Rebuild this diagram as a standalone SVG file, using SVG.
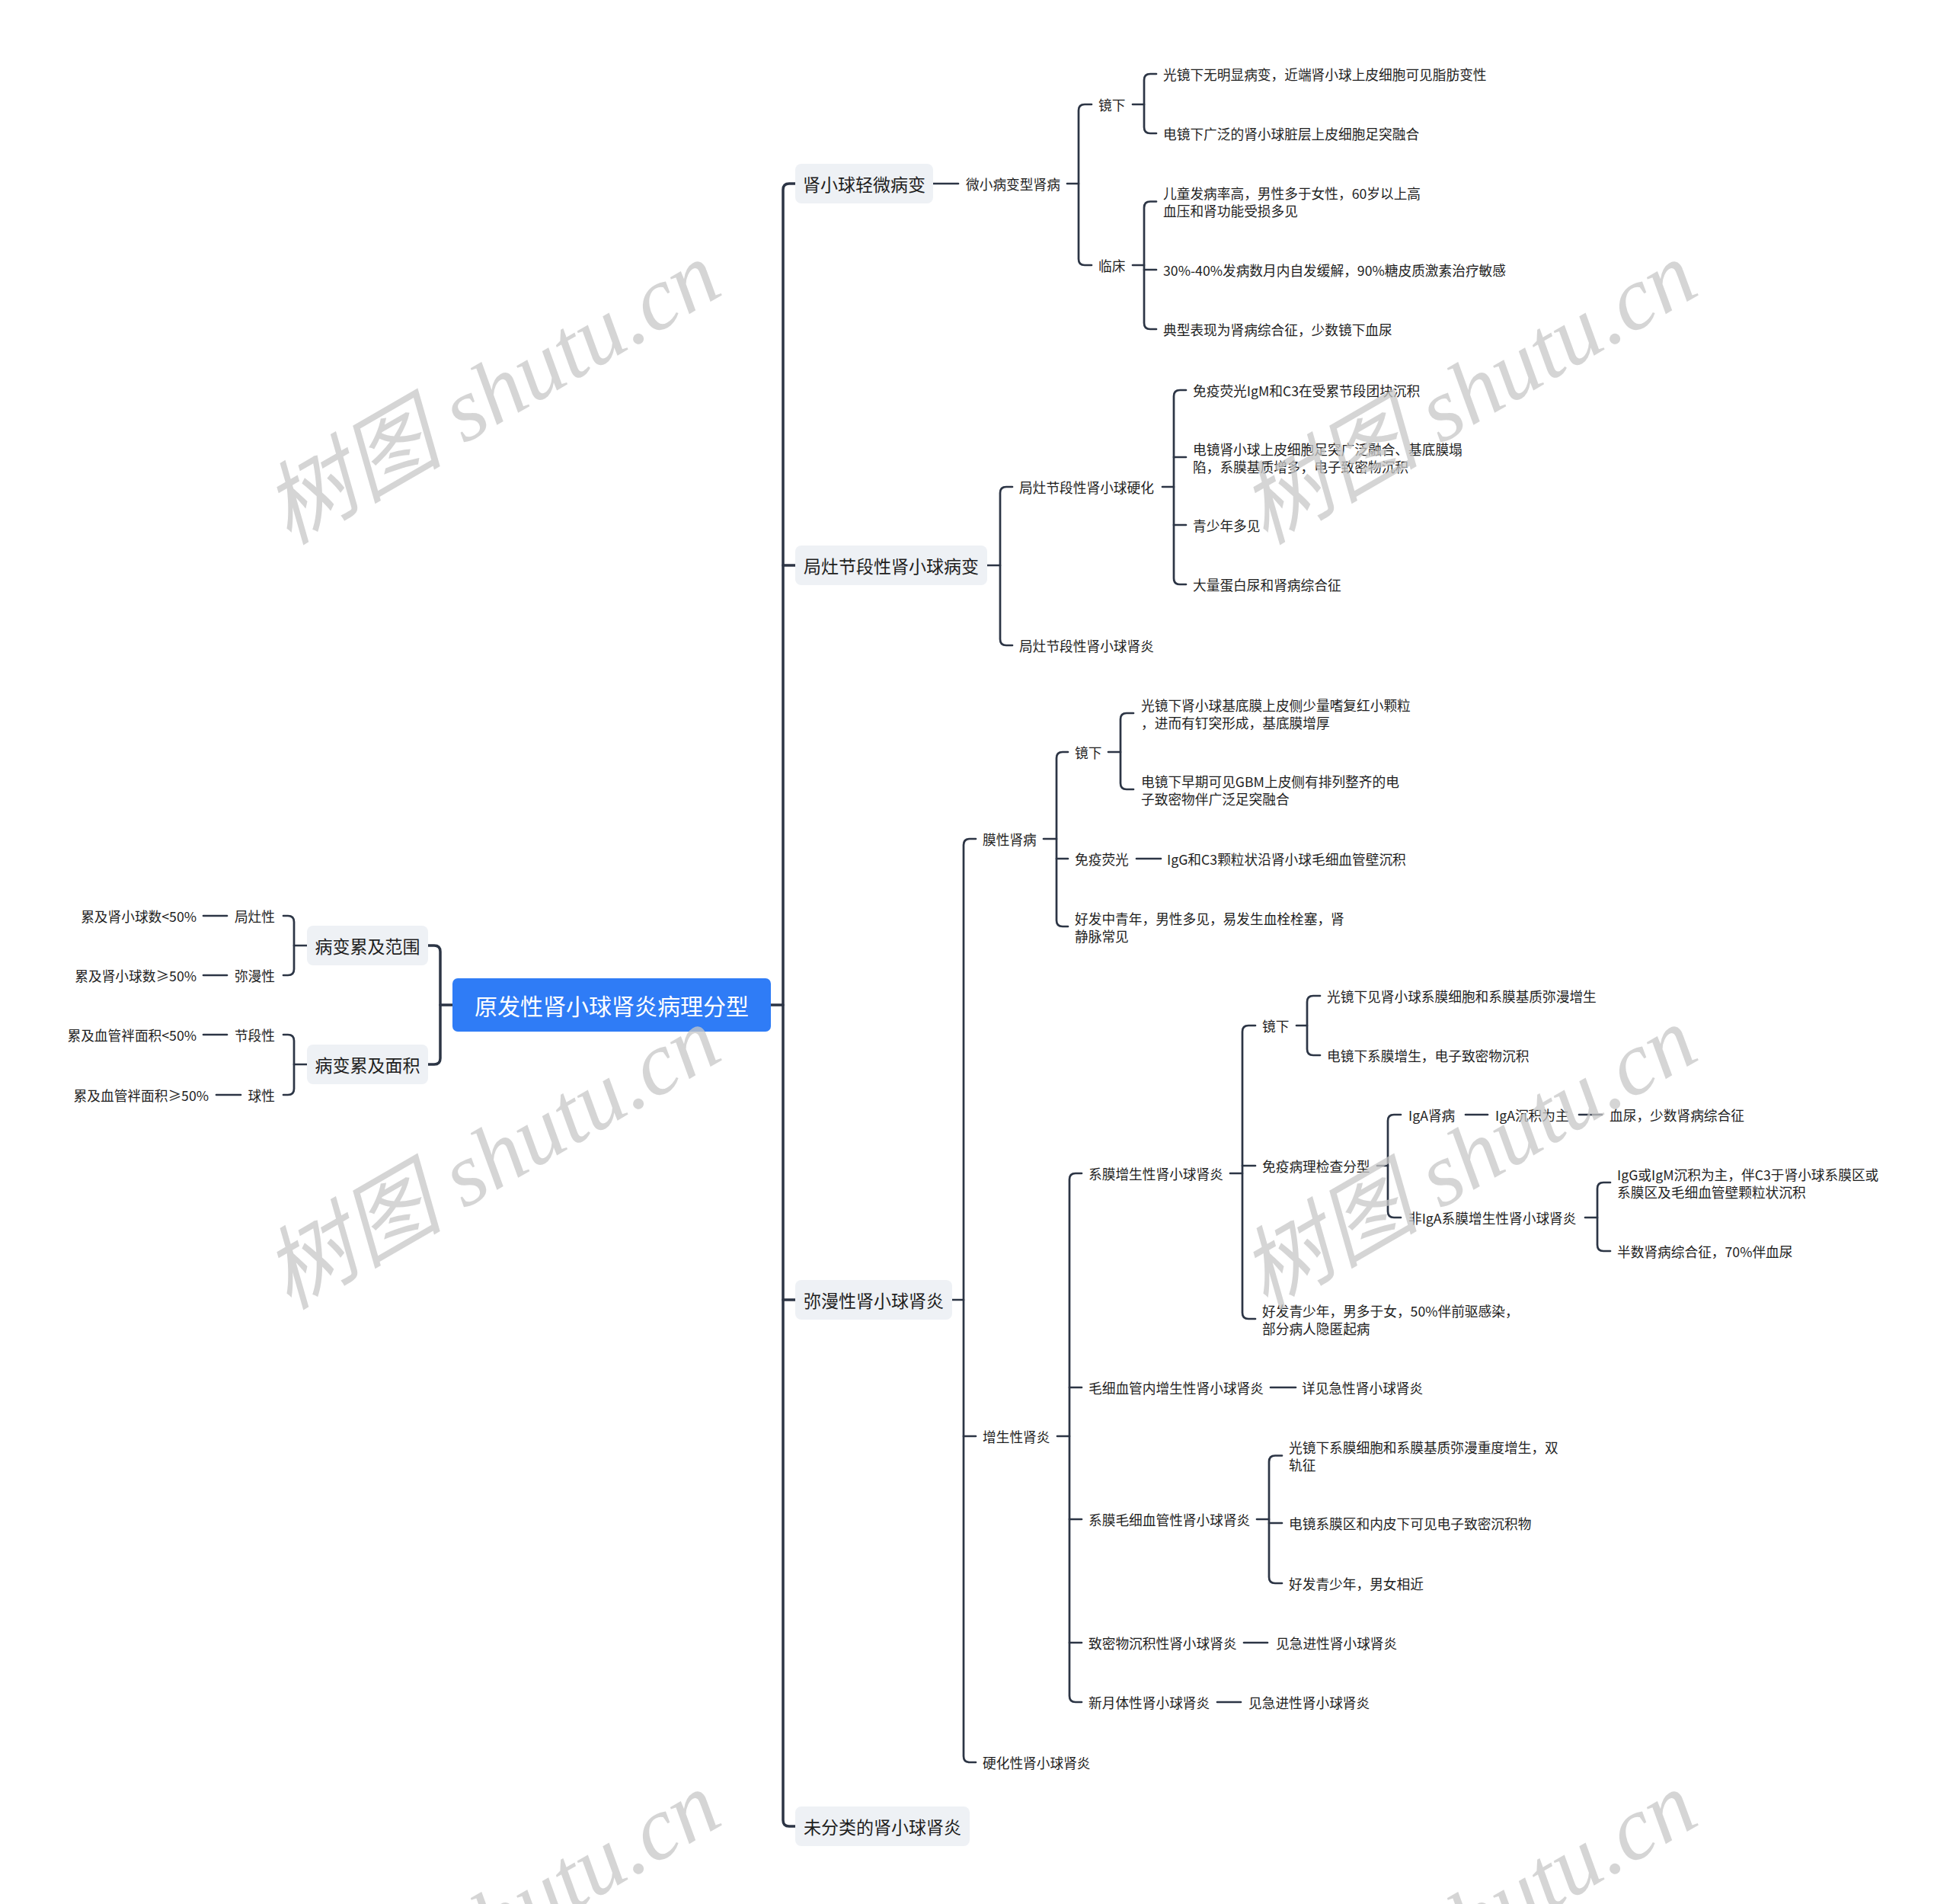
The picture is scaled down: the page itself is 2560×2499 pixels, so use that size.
<svg xmlns="http://www.w3.org/2000/svg" width="2560" height="2499" viewBox="0 0 2560 2499">
<style>
text{font-family:"Noto Sans CJK SC","Noto Sans",sans-serif;fill:#1e1e1e;dominant-baseline:central}
.s{font-size:17.7px}
.l1{font-size:23px;text-anchor:middle}
.root{font-size:30px;fill:#ffffff;text-anchor:middle}
.e{text-anchor:end}
.box{fill:#eef1f5}
.rootbox{fill:#2f7cf6}
#connectors path{fill:none;stroke:#2c3545;stroke-width:2.7;stroke-linecap:round;stroke-linejoin:round}
#connectors path.c0{stroke-width:3.5}
.wm{font-family:"Liberation Serif","Noto Sans CJK SC",serif;font-style:italic;font-size:118px;fill:#c8c8c8;opacity:0.75;text-anchor:middle}
</style>
<rect width="2560" height="2499" fill="#ffffff"/>
<g id="connectors">
<path class="c0" d="M1012,1319 H1028"/>
<path class="c0" d="M1044,241 H1036 Q1028,241 1028,249 V2389 Q1028,2397 1036,2397 H1044"/>
<path class="c0" d="M1028,742 H1044"/>
<path class="c0" d="M1028,1706 H1044"/>
<path class="c0" d="M594,1319 H578"/>
<path class="c0" d="M562,1241 H570 Q578,1241 578,1249 V1389 Q578,1397 570,1397 H562"/>
<path d="M403,1241 H386"/>
<path d="M372,1202 H378 Q386,1202 386,1210 V1272 Q386,1280 378,1280 H372"/>
<path d="M403,1397 H386"/>
<path d="M372,1358 H378 Q386,1358 386,1366 V1429 Q386,1437 378,1437 H372"/>
<path d="M298,1202 H267"/>
<path d="M298,1280 H267"/>
<path d="M298,1358 H267"/>
<path d="M316,1437 H284"/>
<path d="M1225,241 H1258"/>
<path d="M1401,241 H1416"/>
<path d="M1433,137 H1424 Q1416,137 1416,145 V340 Q1416,348 1424,348 H1433"/>
<path d="M1487,137 H1502"/>
<path d="M1518,97 H1510 Q1502,97 1502,105 V167 Q1502,175 1510,175 H1518"/>
<path d="M1487,348 H1502"/>
<path d="M1518,264.5 H1510 Q1502,264.5 1502,272.5 V424 Q1502,432 1510,432 H1518"/>
<path d="M1502,354 H1518"/>
<path d="M1296,742 H1313"/>
<path d="M1329,639 H1321 Q1313,639 1313,647 V839 Q1313,847 1321,847 H1329"/>
<path d="M1526,639 H1541"/>
<path d="M1557,512 H1549 Q1541,512 1541,520 V759 Q1541,767 1549,767 H1557"/>
<path d="M1541,600 H1557"/>
<path d="M1541,689 H1557"/>
<path d="M1250,1706 H1265"/>
<path d="M1281,1101 H1273 Q1265,1101 1265,1109 V2305 Q1265,2313 1273,2313 H1281"/>
<path d="M1265,1885 H1281"/>
<path d="M1370,1101 H1387"/>
<path d="M1402,987 H1395 Q1387,987 1387,995 V1208 Q1387,1216 1395,1216 H1402"/>
<path d="M1387,1127 H1402"/>
<path d="M1455,987 H1471"/>
<path d="M1488,936 H1479 Q1471,936 1471,944 V1028 Q1471,1036 1479,1036 H1488"/>
<path d="M1492,1127 H1524"/>
<path d="M1388,1885 H1404"/>
<path d="M1420,1540 H1412 Q1404,1540 1404,1548 V2226 Q1404,2234 1412,2234 H1420"/>
<path d="M1404,1821 H1420"/>
<path d="M1404,1994 H1420"/>
<path d="M1404,2156 H1420"/>
<path d="M1615,1540 H1631"/>
<path d="M1648,1346 H1639 Q1631,1346 1631,1354 V1723 Q1631,1731 1639,1731 H1648"/>
<path d="M1631,1530 H1648"/>
<path d="M1702,1346 H1716"/>
<path d="M1733,1307 H1724 Q1716,1307 1716,1315 V1377 Q1716,1385 1724,1385 H1733"/>
<path d="M1808,1530 H1822"/>
<path d="M1839,1463 H1830 Q1822,1463 1822,1471 V1590 Q1822,1598 1830,1598 H1839"/>
<path d="M1924,1463 H1953"/>
<path d="M2073,1463 H2103"/>
<path d="M2081,1598 H2097"/>
<path d="M2114,1552 H2105 Q2097,1552 2097,1560 V1634 Q2097,1642 2105,1642 H2114"/>
<path d="M1668,1821 H1701"/>
<path d="M1650,1994 H1666"/>
<path d="M1683,1910.5 H1674 Q1666,1910.5 1666,1918.5 V2070 Q1666,2078 1674,2078 H1683"/>
<path d="M1666,1999 H1683"/>
<path d="M1633,2156 H1664"/>
<path d="M1598,2234 H1629"/>
</g>
<g id="root"><rect class="rootbox" x="594" y="1284" width="418" height="70" rx="7"/><text class="root" x="803" y="1319">原发性肾小球肾炎病理分型</text></g>
<g id="n-fanwei"><rect class="box" x="403" y="1215" width="159" height="52" rx="8"/><text class="l1" x="482.5" y="1241">病变累及范围</text></g>
<g id="n-mianji"><rect class="box" x="403" y="1371" width="159" height="52" rx="8"/><text class="l1" x="482.5" y="1397">病变累及面积</text></g>
<g id="n-juzao"><text class="s e" x="361" y="1202">局灶性</text></g>
<g id="n-juzao-d"><text class="s e" x="258" y="1202">累及肾小球数&lt;50%</text></g>
<g id="n-miman"><text class="s e" x="361" y="1280">弥漫性</text></g>
<g id="n-miman-d"><text class="s e" x="258" y="1280">累及肾小球数≥50%</text></g>
<g id="n-jieduan"><text class="s e" x="361" y="1358">节段性</text></g>
<g id="n-jieduan-d"><text class="s e" x="258" y="1358">累及血管袢面积&lt;50%</text></g>
<g id="n-qiu"><text class="s e" x="361" y="1437">球性</text></g>
<g id="n-qiu-d"><text class="s e" x="274" y="1437">累及血管袢面积≥50%</text></g>
<g id="b1"><rect class="box" x="1044" y="215" width="181" height="52" rx="8"/><text class="l1" x="1134.5" y="241">肾小球轻微病变</text></g>
<g id="b1-1"><text class="s" x="1268" y="241">微小病变型肾病</text></g>
<g id="b1-1-1"><text class="s" x="1442" y="137">镜下</text></g>
<g id="b1-1-1-1"><text class="s" x="1527" y="97">光镜下无明显病变，近端肾小球上皮细胞可见脂肪变性</text></g>
<g id="b1-1-1-2"><text class="s" x="1527" y="175">电镜下广泛的肾小球脏层上皮细胞足突融合</text></g>
<g id="b1-1-2"><text class="s" x="1442" y="348">临床</text></g>
<g id="b1-1-2-1"><text class="s" x="1527" y="253"><tspan x="1527" y="253">儿童发病率高，男性多于女性，60岁以上高</tspan><tspan x="1527" y="276">血压和肾功能受损多见</tspan></text></g>
<g id="b1-1-2-2"><text class="s" x="1527" y="354">30%-40%发病数月内自发缓解，90%糖皮质激素治疗敏感</text></g>
<g id="b1-1-2-3"><text class="s" x="1527" y="432">典型表现为肾病综合征，少数镜下血尿</text></g>
<g id="b2"><rect class="box" x="1044" y="716" width="252" height="52" rx="8"/><text class="l1" x="1170" y="742">局灶节段性肾小球病变</text></g>
<g id="b2-1"><text class="s" x="1338" y="639">局灶节段性肾小球硬化</text></g>
<g id="b2-1-1"><text class="s" x="1566" y="512">免疫荧光IgM和C3在受累节段团块沉积</text></g>
<g id="b2-1-2"><text class="s"><tspan x="1566" y="588.5">电镜肾小球上皮细胞足突广泛融合、基底膜塌</tspan><tspan x="1566" y="611.5">陷，系膜基质增多，电子致密物沉积</tspan></text></g>
<g id="b2-1-3"><text class="s" x="1566" y="689">青少年多见</text></g>
<g id="b2-1-4"><text class="s" x="1566" y="767">大量蛋白尿和肾病综合征</text></g>
<g id="b2-2"><text class="s" x="1338" y="847">局灶节段性肾小球肾炎</text></g>
<g id="b3"><rect class="box" x="1044" y="1680" width="206" height="52" rx="8"/><text class="l1" x="1147" y="1706">弥漫性肾小球肾炎</text></g>
<g id="b3-1"><text class="s" x="1290" y="1101">膜性肾病</text></g>
<g id="b3-1-1"><text class="s" x="1411" y="987">镜下</text></g>
<g id="b3-1-1-1"><text class="s"><tspan x="1498" y="924.5">光镜下肾小球基底膜上皮侧少量嗜复红小颗粒</tspan><tspan x="1498" y="947.5">，进而有钉突形成，基底膜增厚</tspan></text></g>
<g id="b3-1-1-2"><text class="s"><tspan x="1498" y="1024.5">电镜下早期可见GBM上皮侧有排列整齐的电</tspan><tspan x="1498" y="1047.5">子致密物伴广泛足突融合</tspan></text></g>
<g id="b3-1-2"><text class="s" x="1411" y="1127">免疫荧光</text></g>
<g id="b3-1-2-1"><text class="s" x="1532" y="1127">IgG和C3颗粒状沿肾小球毛细血管壁沉积</text></g>
<g id="b3-1-3"><text class="s"><tspan x="1411" y="1204.5">好发中青年，男性多见，易发生血栓栓塞，肾</tspan><tspan x="1411" y="1227.5">静脉常见</tspan></text></g>
<g id="b3-2"><text class="s" x="1290" y="1885">增生性肾炎</text></g>
<g id="b3-2-1"><text class="s" x="1429" y="1540">系膜增生性肾小球肾炎</text></g>
<g id="b3-2-1-1"><text class="s" x="1657" y="1346">镜下</text></g>
<g id="b3-2-1-1-1"><text class="s" x="1742" y="1307">光镜下见肾小球系膜细胞和系膜基质弥漫增生</text></g>
<g id="b3-2-1-1-2"><text class="s" x="1742" y="1385">电镜下系膜增生，电子致密物沉积</text></g>
<g id="b3-2-1-2"><text class="s" x="1657" y="1530">免疫病理检查分型</text></g>
<g id="b3-2-1-2-1"><text class="s" x="1849" y="1463">IgA肾病</text></g>
<g id="b3-2-1-2-1-1"><text class="s" x="1963" y="1463">IgA沉积为主</text></g>
<g id="b3-2-1-2-1-1-1"><text class="s" x="2113" y="1463">血尿，少数肾病综合征</text></g>
<g id="b3-2-1-2-2"><text class="s" x="1849" y="1598">非IgA系膜增生性肾小球肾炎</text></g>
<g id="b3-2-1-2-2-1"><text class="s"><tspan x="2123" y="1540.5">IgG或IgM沉积为主，伴C3于肾小球系膜区或</tspan><tspan x="2123" y="1563.5">系膜区及毛细血管壁颗粒状沉积</tspan></text></g>
<g id="b3-2-1-2-2-2"><text class="s" x="2123" y="1642">半数肾病综合征，70%伴血尿</text></g>
<g id="b3-2-1-3"><text class="s"><tspan x="1657" y="1719.5">好发青少年，男多于女，50%伴前驱感染，</tspan><tspan x="1657" y="1742.5">部分病人隐匿起病</tspan></text></g>
<g id="b3-2-2"><text class="s" x="1429" y="1821">毛细血管内增生性肾小球肾炎</text></g>
<g id="b3-2-2-1"><text class="s" x="1709" y="1821">详见急性肾小球肾炎</text></g>
<g id="b3-2-3"><text class="s" x="1429" y="1994">系膜毛细血管性肾小球肾炎</text></g>
<g id="b3-2-3-1"><text class="s"><tspan x="1692" y="1899">光镜下系膜细胞和系膜基质弥漫重度增生，双</tspan><tspan x="1692" y="1922">轨征</tspan></text></g>
<g id="b3-2-3-2"><text class="s" x="1692" y="1999">电镜系膜区和内皮下可见电子致密沉积物</text></g>
<g id="b3-2-3-3"><text class="s" x="1692" y="2078">好发青少年，男女相近</text></g>
<g id="b3-2-4"><text class="s" x="1429" y="2156">致密物沉积性肾小球肾炎</text></g>
<g id="b3-2-4-1"><text class="s" x="1675" y="2156">见急进性肾小球肾炎</text></g>
<g id="b3-2-5"><text class="s" x="1429" y="2234">新月体性肾小球肾炎</text></g>
<g id="b3-2-5-1"><text class="s" x="1639" y="2234">见急进性肾小球肾炎</text></g>
<g id="b3-3"><text class="s" x="1290" y="2313">硬化性肾小球肾炎</text></g>
<g id="b4"><rect class="box" x="1044" y="2371" width="229" height="52" rx="8"/><text class="l1" x="1158.5" y="2397">未分类的肾小球肾炎</text></g>
<g id="watermarks">
<text class="wm" transform="translate(646,516) rotate(-30)">树图 shutu.cn</text>
<text class="wm" transform="translate(1928,516) rotate(-30)">树图 shutu.cn</text>
<text class="wm" transform="translate(646,1520) rotate(-30)">树图 shutu.cn</text>
<text class="wm" transform="translate(1928,1520) rotate(-30)">树图 shutu.cn</text>
<text class="wm" transform="translate(646,2524) rotate(-30)">树图 shutu.cn</text>
<text class="wm" transform="translate(1928,2524) rotate(-30)">树图 shutu.cn</text>
</g>
</svg>
